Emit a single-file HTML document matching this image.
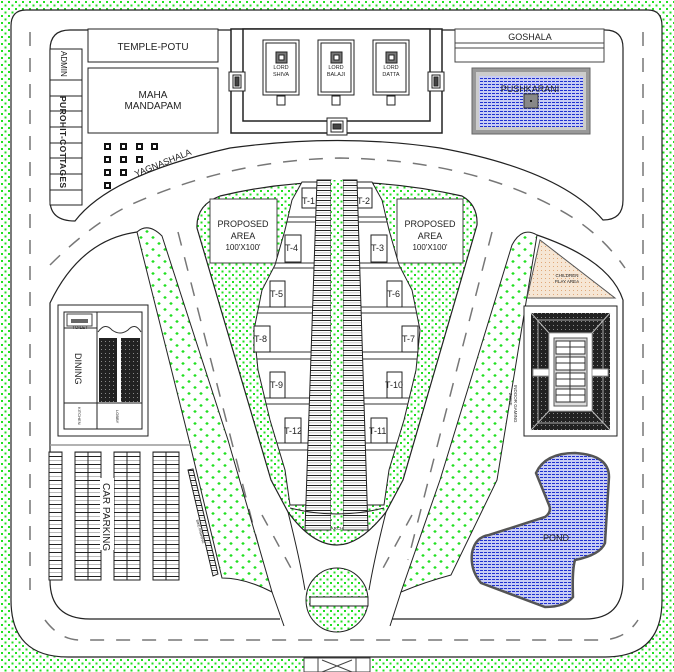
<!DOCTYPE html>
<html><head><meta charset="utf-8"><style>
html,body{margin:0;padding:0;background:#fff}
svg{display:block}
text{font-family:"Liberation Sans",sans-serif;fill:#222}
</style></head><body>
<svg width="674" height="672" viewBox="0 0 674 672" xmlns="http://www.w3.org/2000/svg">
<defs>
<pattern id="g" width="7" height="7" patternUnits="userSpaceOnUse"><rect width="7" height="7" fill="#fff"/><rect x="1" y="1" width="2" height="2" fill="#22e022"/><rect x="4.5" y="4.5" width="2" height="2" fill="#22e022"/></pattern>
<pattern id="g2" width="12" height="12" patternUnits="userSpaceOnUse"><rect width="12" height="12" fill="#fff"/><path d="M3 2v3M1.5 3.5h3" stroke="#22e022" stroke-width="1.2"/><path d="M9 8v3M7.5 9.5h3" stroke="#22e022" stroke-width="1.2"/></pattern>
<pattern id="st" width="4" height="5" patternUnits="userSpaceOnUse"><rect width="4" height="5" fill="#fff"/><rect y="0" width="4" height="1" fill="#222"/><rect y="2.5" width="4" height="0.7" fill="#aaa"/></pattern>
<pattern id="bl" width="4" height="3" patternUnits="userSpaceOnUse"><rect width="4" height="3" fill="#c8ccf4"/><rect width="3" height="1" fill="#2030d0"/></pattern>
<pattern id="dk" width="4" height="4" patternUnits="userSpaceOnUse"><rect width="4" height="4" fill="#222"/><rect x="1" y="1" width="1" height="1" fill="#888"/></pattern>
<pattern id="pe" width="4" height="4" patternUnits="userSpaceOnUse"><rect width="4" height="4" fill="#f6e6d4"/><rect x="1" y="2" width="1" height="1" fill="#e0a878"/></pattern>
<pattern id="pk" width="8" height="8" patternUnits="userSpaceOnUse"><rect width="8" height="8" fill="#fff"/><rect y="0" width="8" height="1" fill="#222"/><rect y="4" width="8" height="1" fill="#bbb"/></pattern>
<clipPath id="lobe"><path d="M302,182 L292,200 L285,230 L275,265 L262,290 L254,330 L258,370 L270,420 L285,470 L290,505 L384,505 L389,470 L404,420 L416,370 L420,330 L412,290 L399,265 L389,230 L382,200 L372,182 Z"/></clipPath>
</defs>
<rect width="674" height="672" fill="url(#g)"/>
<path d="M26,10 H648 Q662,10 662,26 V600 Q662,657 605,657 H68 Q11,657 11,600 V26 Q11,10 26,10 Z" fill="#fff" stroke="#222" stroke-width="1.2"/>
<rect x="304" y="658" width="66" height="14" fill="#fff" stroke="#444"/>
<line x1="318" y1="658" x2="318" y2="672" stroke="#444"/><line x1="356" y1="658" x2="356" y2="672" stroke="#444"/>
<path d="M322,660 L352,672 M352,660 L322,672" stroke="#444"/>
<g stroke="#777" stroke-width="1.5" stroke-dasharray="14,12" fill="none">
<line x1="30" y1="32" x2="30" y2="590"/>
<line x1="643" y1="32" x2="643" y2="590"/>
<path d="M45,620 Q60,640 80,640 H600 Q625,640 638,620"/>
<path d="M50,265 Q90,225 130,205 Q230,160 340,158 Q470,160 560,210 Q600,232 625,268"/>
<path d="M178,232 L262,560"/>
<path d="M492,232 L408,560"/>
</g>
<path d="M70,30 H605 Q623,30 623,48 V200 Q623,220 603,220 Q560,170 440,148 Q340,133 230,148 Q110,175 75,221 Q50,221 50,200 V50 Q50,30 70,30 Z" fill="#fff" stroke="#222" stroke-width="1.2"/>
<rect x="88" y="29" width="130" height="33" fill="#fff" stroke="#222"/>
<text x="153" y="50" font-size="10" text-anchor="middle">TEMPLE-POTU</text>
<rect x="88" y="68" width="130" height="65" fill="#fff" stroke="#222"/>
<text x="153" y="98" font-size="10" text-anchor="middle">MAHA</text>
<text x="153" y="109" font-size="10" text-anchor="middle">MANDAPAM</text>
<rect x="50" y="49" width="32" height="156" fill="#fff" stroke="#222"/>
<g stroke="#222"><line x1="50" y1="80" x2="82" y2="80"/><line x1="50" y1="96" x2="82" y2="96"/><line x1="50" y1="111" x2="82" y2="111"/><line x1="50" y1="127" x2="82" y2="127"/><line x1="50" y1="143" x2="82" y2="143"/><line x1="50" y1="158" x2="82" y2="158"/><line x1="50" y1="174" x2="82" y2="174"/><line x1="50" y1="190" x2="82" y2="190"/></g>
<text transform="translate(61,51) rotate(90)" font-size="8">ADMIN</text>
<text transform="translate(60,96) rotate(90)" font-size="8.5" font-weight="bold" textLength="92">PUROHIT-COTTAGES</text>
<g fill="#fff" stroke="#111" stroke-width="2">
<rect x="105" y="144" width="5" height="5"/><rect x="121" y="144" width="5" height="5"/><rect x="137" y="144" width="5" height="5"/><rect x="152" y="144" width="5" height="5"/>
<rect x="105" y="157" width="5" height="5"/><rect x="121" y="157" width="5" height="5"/><rect x="137" y="157" width="5" height="5"/>
<rect x="105" y="170" width="5" height="5"/><rect x="121" y="170" width="5" height="5"/>
<rect x="105" y="183" width="5" height="5"/>
</g>
<text transform="translate(136,177) rotate(-22)" font-size="9">YAGNASHALA</text>
<rect x="231" y="29" width="211" height="104" fill="#fff" stroke="#222" stroke-width="1.5"/>
<rect x="243" y="29" width="187" height="92" fill="#fff" stroke="#222" stroke-width="1.5"/>
<g fill="#fff" stroke="#222">
<rect x="229" y="72" width="16" height="19"/><rect x="233" y="75" width="8" height="13"/><rect x="235" y="77" width="4" height="9" fill="#444"/>
<rect x="428" y="72" width="16" height="19"/><rect x="432" y="75" width="8" height="13"/><rect x="434" y="77" width="4" height="9" fill="#444"/>
<rect x="327" y="118" width="20" height="17"/><rect x="331" y="121" width="12" height="11"/><rect x="333" y="124" width="8" height="5" fill="#444"/>
</g>
<g font-size="5.5" text-anchor="middle">
<g fill="#fff" stroke="#222">
<rect x="263" y="40" width="36" height="55"/><rect x="266" y="43" width="30" height="49"/><rect x="276" y="52" width="11" height="11" fill="#777"/><rect x="279" y="55" width="5" height="5"/><rect x="277" y="96" width="8" height="9"/>
<rect x="318" y="40" width="36" height="55"/><rect x="321" y="43" width="30" height="49"/><rect x="331" y="52" width="11" height="11" fill="#777"/><rect x="334" y="55" width="5" height="5"/><rect x="332" y="96" width="8" height="9"/>
<rect x="373" y="40" width="36" height="55"/><rect x="376" y="43" width="30" height="49"/><rect x="386" y="52" width="11" height="11" fill="#777"/><rect x="389" y="55" width="5" height="5"/><rect x="387" y="96" width="8" height="9"/>
</g>
<text x="281" y="69">LORD</text><text x="281" y="76">SHIVA</text>
<text x="336" y="69">LORD</text><text x="336" y="76">BALAJI</text>
<text x="391" y="69">LORD</text><text x="391" y="76">DATTA</text>
</g>
<rect x="455" y="29" width="149" height="33" fill="#fff" stroke="#444"/>
<line x1="455" y1="43" x2="604" y2="43" stroke="#444"/><line x1="455" y1="48" x2="604" y2="48" stroke="#444"/>
<text x="530" y="40" font-size="9" text-anchor="middle">GOSHALA</text>
<rect x="472" y="68" width="118" height="66" fill="#999" stroke="#666"/>
<rect x="476" y="72" width="110" height="58" fill="#ccc"/>
<rect x="479" y="76" width="104" height="51" fill="url(#bl)"/>
<rect x="524" y="94" width="14" height="14" fill="#888" stroke="#333"/><circle cx="531" cy="101" r="1" fill="#000"/>
<text x="530" y="92" font-size="9" text-anchor="middle">PUSHKARANI</text>
<path d="M220,196 Q337,168 462,196 Q478,205 477,225 L403,480 L386,512 Q360,545 337,545 Q312,545 288,512 L271,480 L197,228 Q196,205 220,196 Z" fill="url(#g)" stroke="#222" stroke-width="1.2"/>
<rect x="210" y="199" width="67" height="64" fill="#fff" stroke="#444"/>
<rect x="397" y="199" width="66" height="64" fill="#fff" stroke="#444"/>
<g font-size="9" text-anchor="middle">
<text x="243" y="227">PROPOSED</text><text x="243" y="239">AREA</text><text x="243" y="250" font-size="8">100'X100'</text>
<text x="430" y="227">PROPOSED</text><text x="430" y="239">AREA</text><text x="430" y="250" font-size="8">100'X100'</text>
</g>
<path d="M302,182 L292,200 L285,230 L275,265 L262,290 L254,330 L258,370 L270,420 L285,470 L290,505 L384,505 L389,470 L404,420 L416,370 L420,330 L412,290 L399,265 L389,230 L382,200 L372,182 Z" fill="#fff" stroke="#222"/>
<g clip-path="url(#lobe)" stroke="#333" fill="none">
<line x1="240" y1="217" x2="440" y2="217"/><line x1="240" y1="222" x2="440" y2="222"/>
<line x1="240" y1="263" x2="440" y2="263"/><line x1="240" y1="268" x2="440" y2="268"/>
<line x1="240" y1="307" x2="440" y2="307"/><line x1="240" y1="313" x2="440" y2="313"/>
<line x1="240" y1="352" x2="440" y2="352"/><line x1="240" y1="359" x2="440" y2="359"/>
<line x1="240" y1="398" x2="440" y2="398"/><line x1="240" y1="404" x2="440" y2="404"/>
<line x1="240" y1="443" x2="440" y2="443"/><line x1="240" y1="450" x2="440" y2="450"/>
</g>
<g fill="#fff" stroke="#222" font-size="9">
<rect x="302" y="188" width="15" height="20"/><rect x="357" y="188" width="15" height="20"/>
<rect x="285" y="235" width="16" height="27"/><rect x="371" y="235" width="16" height="27"/>
<rect x="270" y="281" width="15" height="26"/><rect x="387" y="281" width="15" height="26"/>
<rect x="254" y="326" width="16" height="26"/><rect x="402" y="326" width="16" height="26"/>
<rect x="270" y="372" width="15" height="26"/><rect x="387" y="372" width="15" height="26"/>
<rect x="285" y="418" width="16" height="25"/><rect x="371" y="418" width="16" height="25"/>
</g>
<g font-size="9" stroke="none">
<text x="302" y="204">T-1</text><text x="357" y="204">T-2</text>
<text x="285" y="251">T-4</text><text x="371" y="251">T-3</text>
<text x="270" y="297">T-5</text><text x="387" y="297">T-6</text>
<text x="254" y="342">T-8</text><text x="402" y="342">T-7</text>
<text x="270" y="388">T-9</text><text x="385" y="388">T-10</text>
<text x="284" y="434">T-12</text><text x="369" y="434">T-11</text>
</g>
<path d="M317,180 L331,180 L331,530 L305,530 Z" fill="url(#st)" stroke="#222"/>
<path d="M343,180 L357,180 L368,530 L343,530 Z" fill="url(#st)" stroke="#222"/>
<rect x="331" y="180" width="12" height="350" fill="url(#g)"/>
<path d="M290,508 Q337,520 384,508" fill="none" stroke="#222"/>
<text x="337" y="530" font-size="4.5" text-anchor="middle">ARCH</text>
<path d="M137,232 Q148,222 162,236 L228,440 L272,592 Q245,578 222,578 L189,440 Z" fill="url(#g2)" stroke="#222"/>
<path d="M512,245 Q522,226 537,235 L497,480 L451,575 Q425,582 401,592 L440,480 Z" fill="url(#g2)" stroke="#222"/>
<path d="M137,232 Q80,240 50,303 V580 Q50,619 90,619 H280" fill="none" stroke="#222" stroke-width="1.2"/>
<path d="M272,592 L284,626" fill="none" stroke="#222"/>
<path d="M401,592 L390,626" fill="none" stroke="#222"/>
<path d="M537,235 Q610,260 623,300 V580 Q623,619 585,619 H392" fill="none" stroke="#222" stroke-width="1.2"/>
<line x1="50" y1="445" x2="190" y2="445" stroke="#999" stroke-width="1.5"/>
<path d="M288,512 Q300,560 305,590" fill="none" stroke="#222"/>
<path d="M386,512 Q374,560 369,590" fill="none" stroke="#222"/>
<g stroke="#777" stroke-width="1.5" stroke-dasharray="12,12" fill="none">
<path d="M262,515 L292,570"/><path d="M412,515 L382,570"/>
</g>
<ellipse cx="337" cy="600" rx="31" ry="32" fill="url(#g)" stroke="#222"/>
<rect x="310" y="597" width="58" height="9" fill="#fff" stroke="#222"/>
<rect x="58" y="305" width="90" height="131" fill="#fff" stroke="#222"/>
<rect x="64" y="312" width="78" height="117" fill="#fff" stroke="#222"/>
<line x1="64" y1="328" x2="97" y2="328" stroke="#222"/>
<rect x="67" y="314" width="25" height="12" fill="#fff" stroke="#444"/><rect x="71" y="319" width="17" height="4" fill="#666"/>
<line x1="97" y1="312" x2="97" y2="429" stroke="#222"/>
<line x1="64" y1="403" x2="142" y2="403" stroke="#222"/>
<path d="M98,332 Q105,322 112,330 Q120,336 128,330 Q135,322 141,332" fill="none" stroke="#333"/>
<rect x="99" y="338" width="18" height="64" fill="url(#dk)"/>
<rect x="121" y="338" width="19" height="64" fill="url(#dk)"/>
<text transform="translate(75,353) rotate(90)" font-size="9">DINING</text>
<text x="80" y="329" font-size="4.5" text-anchor="middle">TOILET</text>
<text transform="translate(78,407) rotate(90)" font-size="4">KITCHEN</text>
<text transform="translate(116,410) rotate(90)" font-size="4">LOBBY</text>
<g stroke="#222" fill="url(#pk)">
<rect x="49" y="452" width="13" height="128"/>
<rect x="75" y="452" width="26" height="128"/>
<rect x="114" y="452" width="26" height="128"/>
<rect x="153" y="452" width="26" height="128"/>
</g>
<g stroke="#222"><line x1="88" y1="452" x2="88" y2="580"/><line x1="127" y1="452" x2="127" y2="580"/><line x1="166" y1="452" x2="166" y2="580"/></g>
<rect x="100" y="478" width="14" height="72" fill="#fff"/>
<text transform="translate(103,483) rotate(90)" font-size="10">CAR PARKING</text>
<path d="M188,470 L193,469 L218,574 L213,576 Z" fill="url(#st)" stroke="#222"/>
<text transform="translate(196,520) rotate(75)" font-size="3.5">BIKE PARKING</text>
<path d="M540,240 L527,298 L615,298 Z" fill="url(#pe)" stroke="#555"/>
<text x="567" y="277" font-size="4.5" text-anchor="middle">CHILDREN</text>
<text x="567" y="283" font-size="4.5" text-anchor="middle">PLAY AREA</text>
<rect x="524" y="306" width="93" height="130" fill="#fff" stroke="#222"/>
<rect x="531" y="313" width="79" height="117" fill="url(#dk)"/>
<path d="M531,313 L549,333 M610,313 L592,333 M531,430 L549,411 M610,430 L592,411" stroke="#bbb"/>
<rect x="538" y="320" width="65" height="103" fill="none" stroke="#aaa"/>
<rect x="549" y="333" width="43" height="78" fill="#fff" stroke="#aaa"/>
<rect x="554" y="338" width="33" height="68" fill="#ddd" stroke="#555"/>
<g fill="#fff" stroke="#333">
<rect x="556" y="341" width="29" height="13"/><rect x="556" y="357" width="29" height="13"/><rect x="556" y="373" width="29" height="13"/><rect x="556" y="389" width="29" height="13"/>
</g>
<g stroke="#333"><line x1="570" y1="341" x2="570" y2="402"/><line x1="556" y1="347" x2="585" y2="347"/><line x1="556" y1="363" x2="585" y2="363"/><line x1="556" y1="379" x2="585" y2="379"/><line x1="556" y1="395" x2="585" y2="395"/></g>
<rect x="533" y="369" width="16" height="7" fill="#fff" stroke="#999"/>
<rect x="592" y="369" width="16" height="7" fill="#fff" stroke="#999"/>
<text transform="translate(514,385) rotate(90)" font-size="4.5">INDOOR GAMING</text>
<text transform="translate(509,393) rotate(90)" font-size="4.5">ZONE</text>
<path d="M536,473 Q545,453 575,453 Q609,455 609,477 L605,543 Q600,555 575,560 Q572,570 573,597 Q565,607 545,607 L481,583 Q470,570 472,553 Q475,537 489,535 L545,517 Q552,512 549,505 Z" fill="url(#bl)" stroke="#555" stroke-width="2.5"/>
<text x="556" y="541" font-size="9" text-anchor="middle">POND</text>
</svg>
</body></html>
